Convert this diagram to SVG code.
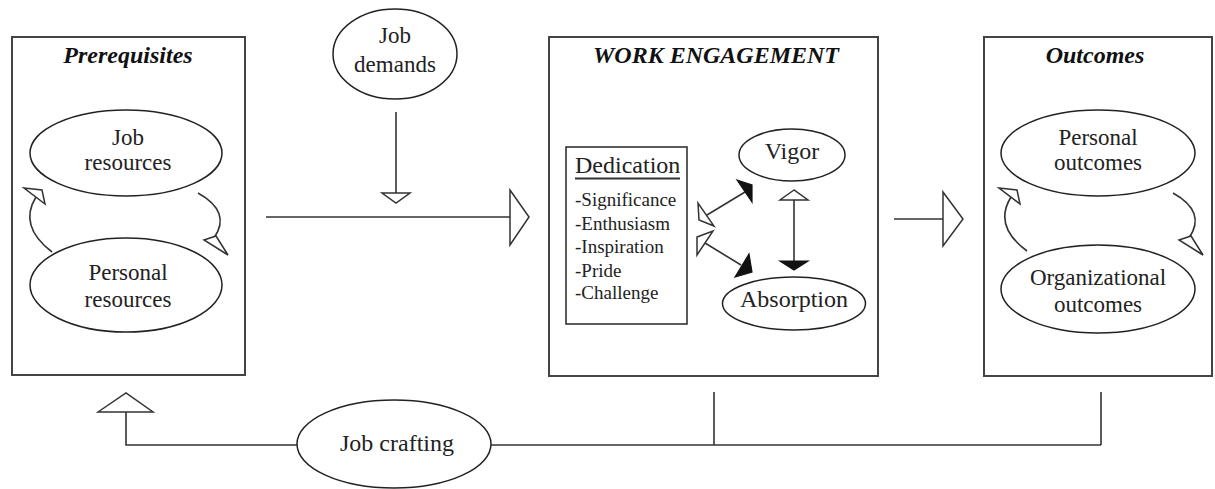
<svg xmlns="http://www.w3.org/2000/svg" width="1215" height="489" viewBox="0 0 1215 489">
<style>
.box{fill:#fff;stroke:#444;stroke-width:2}
.el{fill:#fff;stroke:#222;stroke-width:1.5}
.ln{fill:none;stroke:#333;stroke-width:1.6}
.oh{fill:#fff;stroke:#333;stroke-width:1.5;stroke-linejoin:miter}
.fh{fill:#111;stroke:#111;stroke-width:1.2}
.t{font-family:"Liberation Serif","Times New Roman",serif;font-size:23px;fill:#222;text-anchor:middle}
.ti{font-family:"Liberation Serif","Times New Roman",serif;font-size:24px;font-weight:bold;font-style:italic;fill:#111;text-anchor:middle}
.l{font-family:"Liberation Serif","Times New Roman",serif;font-size:19px;fill:#222}
</style>
<rect width="1215" height="489" fill="#fff"/>

<g id="prerequisites">
<rect class="box" x="12" y="37" width="233" height="338"/>
<text class="ti" x="128" y="63">Prerequisites</text>
</g>
<g id="job-resources">
<ellipse class="el" cx="126" cy="153" rx="96" ry="43"/>
<text class="t" x="128" y="145">Job</text>
<text class="t" x="128" y="170">resources</text>
</g>
<g id="personal-resources">
<ellipse class="el" cx="126" cy="285" rx="96" ry="47"/>
<text class="t" x="128" y="280">Personal</text>
<text class="t" x="128" y="307">resources</text>
</g>

<g id="job-demands">
<ellipse class="el" cx="395" cy="54" rx="62" ry="45"/>
<text class="t" x="395" y="43">Job</text>
<text class="t" x="395" y="72">demands</text>
</g>

<g id="work-engagement">
<rect class="box" x="549" y="37" width="329" height="339"/>
<text class="ti" x="716" y="63">WORK ENGAGEMENT</text>
</g>
<g id="dedication">
<rect x="566" y="147" width="121" height="177" fill="#fff" stroke="#333" stroke-width="1.6"/>
<text class="t" x="575" y="173" style="text-anchor:start;font-size:24px">Dedication</text>
<line x1="575" y1="178.5" x2="680" y2="178.5" stroke="#333" stroke-width="2"/>
<text class="l" x="575" y="206">-Significance</text>
<text class="l" x="575" y="230">-Enthusiasm</text>
<text class="l" x="575" y="253">-Inspiration</text>
<text class="l" x="575" y="277">-Pride</text>
<text class="l" x="575" y="299">-Challenge</text>
</g>
<g id="vigor">
<ellipse class="el" cx="792" cy="155" rx="53" ry="26"/>
<text class="t" x="792" y="159" style="font-size:24px">Vigor</text>
</g>
<g id="absorption">
<ellipse class="el" cx="794" cy="303.5" rx="71.5" ry="26.5"/>
<text class="t" x="794" y="307" style="font-size:24px">Absorption</text>
</g>

<g id="outcomes">
<rect class="box" x="984" y="37" width="228" height="339"/>
<text class="ti" x="1095" y="63">Outcomes</text>
</g>
<g id="personal-outcomes">
<ellipse class="el" cx="1098" cy="153" rx="97" ry="43"/>
<text class="t" x="1098" y="145">Personal</text>
<text class="t" x="1098" y="170">outcomes</text>
</g>
<g id="organizational-outcomes">
<ellipse class="el" cx="1098" cy="289" rx="97" ry="44"/>
<text class="t" x="1098" y="285">Organizational</text>
<text class="t" x="1098" y="312">outcomes</text>
</g>

<g id="job-crafting">
<ellipse class="el" cx="394" cy="444" rx="97" ry="44"/>
<text class="t" x="397" y="451" style="font-size:24px">Job crafting</text>
</g>

<g id="connectors">
<!-- prerequisites loop -->
<path class="ln" d="M52,252 Q18,226 36,197"/>
<polygon class="oh" points="24,188 42,190 45,204"/>
<path class="ln" d="M198,193 Q232,212 214,238"/>
<polygon class="oh" points="204,240 216,236 228,255"/>
<!-- outcomes loop -->
<path class="ln" d="M1027,251 Q993,226 1011,197"/>
<polygon class="oh" points="999,188 1017,190 1020,204"/>
<path class="ln" d="M1173,193 Q1207,212 1189,238"/>
<polygon class="oh" points="1179,240 1191,236 1203,255"/>
<!-- prerequisites to work engagement -->
<line class="ln" x1="266" y1="217" x2="510" y2="217"/>
<polygon class="oh" points="510,190 529,217 510,245"/>
<!-- job demands -->
<line class="ln" x1="396" y1="112" x2="396" y2="193"/>
<polygon class="oh" points="382,193 410,193 396,203"/>
<!-- work engagement to outcomes -->
<line class="ln" x1="894" y1="219" x2="943" y2="219"/>
<polygon class="oh" points="943,192 963,219 943,246"/>
<!-- dedication <-> vigor -->
<line class="ln" x1="707" y1="215" x2="745" y2="192"/>
<polygon class="oh" points="698,203 699,220 714,226"/>
<polygon class="fh" points="737,180 752,185 752,202"/>
<!-- dedication <-> absorption -->
<line class="ln" x1="705" y1="243" x2="741" y2="265"/>
<polygon class="oh" points="697,237 713,231 697,255"/>
<polygon class="fh" points="735,277 749,254 752,272"/>
<!-- vigor <-> absorption -->
<line class="ln" x1="794" y1="200" x2="794" y2="261"/>
<polygon class="oh" points="794,190 780,200 808,200"/>
<polygon class="fh" points="780,261 808,261 794,270"/>
<!-- job crafting feedback -->
<polyline class="ln" points="297,445 126,445 126,412"/>
<polygon class="oh" points="98,412 126,393 153,412"/>
<line class="ln" x1="491" y1="445" x2="1101" y2="445"/>
<line class="ln" x1="714" y1="392" x2="714" y2="445"/>
<line class="ln" x1="1101" y1="392" x2="1101" y2="445"/>
</g>
</svg>
